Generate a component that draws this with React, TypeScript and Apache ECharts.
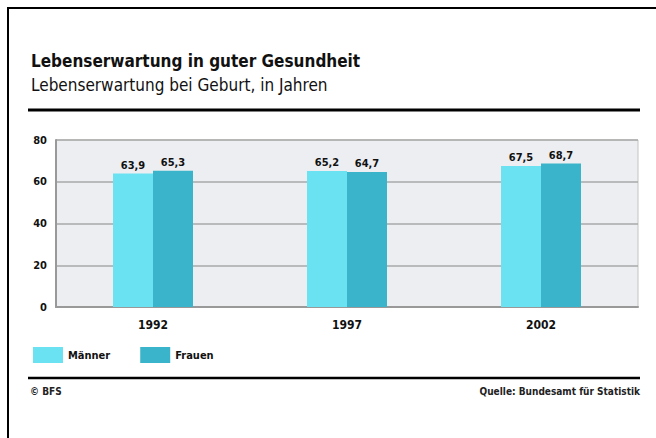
import React, { useEffect, useRef } from "react";
import * as echarts from "echarts";

const categories = ["1992", "1997", "2002"];
const maenner = [63.9, 65.2, 67.5];
const frauen = [65.3, 64.7, 68.7];
const seriesNames = ["Männer", "Frauen"];
const titleText = "Lebenserwartung in guter Gesundheit";
const subtitleText = "Lebenserwartung bei Geburt, in Jahren";
const footerLeft = "© BFS";
const footerRight = "Quelle: Bundesamt für Statistik";

const FONT = "'Liberation Sans Narrow', 'DejaVu Sans Condensed', 'Liberation Sans', sans-serif";
const C_M = "#6ae2f2";
const C_F = "#3ab4ca";

export default function App() {
  const ref = useRef<HTMLDivElement>(null);
  useEffect(() => {
    if (!ref.current) return;
    const chart = echarts.init(ref.current, undefined, { renderer: "svg" });
    const fmt = (p: any) => Number(p.value).toFixed(1).replace(".", ",");
    chart.setOption({
      animation: false,
      backgroundColor: "#ffffff",
      textStyle: { fontFamily: FONT },
      title: {
        text: titleText,
        subtext: subtitleText,
        left: 26,
        top: 47,
        itemGap: 7,
        textStyle: { fontFamily: FONT, fontSize: 17, fontWeight: "bold", color: "#111" },
        subtextStyle: { fontFamily: FONT, fontSize: 17, color: "#111" },
      },
      legend: {
        left: 28,
        top: 342,
        itemWidth: 30,
        itemHeight: 16,
        itemGap: 30,
        icon: "rect",
        textStyle: { fontFamily: FONT, fontSize: 11, fontWeight: "bold", color: "#111" },
        data: seriesNames,
      },
      grid: {
        left: 56,
        top: 140,
        width: 582,
        height: 167,
        show: true,
        backgroundColor: "#eceef1",
        borderColor: "#c4c4c4",
        borderWidth: 1,
      },
      xAxis: {
        type: "category",
        data: categories,
        axisLine: { show: true, lineStyle: { color: "#999", width: 2 } },
        axisTick: { show: false },
        axisLabel: { margin: 12, fontFamily: FONT, fontSize: 12, fontWeight: "bold", color: "#111" },
      },
      yAxis: {
        type: "value",
        min: 0,
        max: 80,
        interval: 20,
        axisLine: { show: true, lineStyle: { color: "#999", width: 2 } },
        axisTick: { show: false },
        axisLabel: { margin: 9, fontFamily: FONT, fontSize: 11, fontWeight: "bold", color: "#111" },
        splitLine: { lineStyle: { color: "#a9a9a9", width: 1.5 } },
      },
      series: [
        {
          name: seriesNames[0],
          type: "bar",
          data: maenner,
          barWidth: 40,
          barGap: "0%",
          itemStyle: { color: C_M },
          label: { show: true, position: "top", distance: 3, formatter: fmt, fontFamily: FONT, fontSize: 11, fontWeight: "bold", color: "#111" },
        },
        {
          name: seriesNames[1],
          type: "bar",
          data: frauen,
          barWidth: 40,
          barGap: "0%",
          itemStyle: { color: C_F },
          label: { show: true, position: "top", distance: 3, formatter: fmt, fontFamily: FONT, fontSize: 11, fontWeight: "bold", color: "#111" },
        },
      ],
      graphic: [
        { type: "polyline", shape: { points: [[8, 438], [8, 8], [656, 8]] }, style: { stroke: "#000", lineWidth: 2, fill: "none" } },
        { type: "line", shape: { x1: 28, y1: 110, x2: 640, y2: 110 }, style: { stroke: "#000", lineWidth: 3 } },
        { type: "line", shape: { x1: 28, y1: 378, x2: 640, y2: 378 }, style: { stroke: "#000", lineWidth: 2.5 } },
        { type: "text", left: 30, top: 386, style: { text: footerLeft, fontFamily: FONT, fontSize: 10, fontWeight: "bold", fill: "#222" } },
        { type: "text", right: 16, top: 386, style: { text: footerRight, fontFamily: FONT, fontSize: 10, fontWeight: "bold", fill: "#222" } },
      ],
    });
    return () => chart.dispose();
  }, []);
  return <div ref={ref} style={{ position: "fixed", left: 0, top: 0, width: 656, height: 438 }} />;
}
